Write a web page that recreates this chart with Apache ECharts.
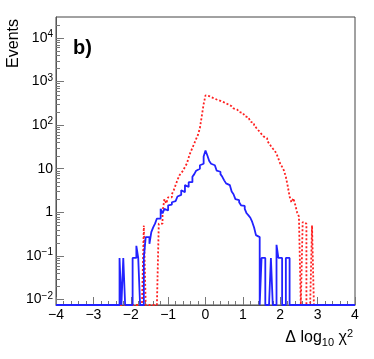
<!DOCTYPE html>
<html lang="en">
<head>
    <meta charset="UTF-8">
    <title>Delta log10 chi2</title>
    <script src="https://cdn.jsdelivr.net/npm/echarts@6/dist/echarts.min.js"></script>
    <style>
        * { margin: 0; padding: 0; }
        body { background: #fff; }
        #chart { width: 374px; height: 359px; }
    </style>
</head>
<body>
    <div id="chart"></div>
    <script>
        // histogram binning
        const xMin = -4;
        const xMax = 4;
        const binWidth = 0.05;
        const yMin = 0.0075;
        const yMax = 30000;

        // blue solid histogram, first bin starts at blueFrom
        const blueFrom = -2.3;
        const blueCounts = [0.09, 0, 0.09, 0, 0, 0, 0, 0.09, 0.09, 0.17, 0.09, 0, 0, 0.09, 0.27, 0.27,
            0.19, 0.35, 0.45, 0.55, 0.72, 0.72, 1.2, 0.95, 1.2, 1.1, 1.45, 1.5, 1.7, 1.8, 1.9, 2.3,
            2.5, 3.2, 2.9, 4.2, 3.8, 4.9, 4.9, 6.5, 7.5, 9, 10, 12, 13, 19, 26, 20, 15, 13, 12, 11,
            9, 8.5, 7.5, 6.5, 5.4, 4.6, 4.2, 3.8, 3, 2.6, 2, 1.9, 1.7, 1.45, 1.4, 1.2, 0.95, 0.85,
            0.75, 0.6, 0.45, 0.3, 0.27, 0, 0.09, 0.09, 0, 0, 0, 0.09, 0, 0, 0.18, 0.09, 0.09, 0, 0,
            0.09, 0.09];

        // red dotted histogram
        const redFrom = -1.65;
        const redCounts = [0.5, 0, 0, 0, 0, 0, 0, 0, 0.55, 0.55, 1.0, 2.0, 1.6, 2.2, 2.2, 2.6, 3.2,
            4.2, 5.5, 7, 8, 9, 11, 13, 18, 24, 30, 38, 48, 60, 85, 160, 300, 480, 460, 440, 420,
            400, 385, 370, 360, 345, 330, 310, 300, 285, 270, 255, 240, 225, 210, 200, 190, 175,
            160, 150, 135, 120, 110, 98, 88, 78, 70, 62, 55, 50, 44, 38, 33, 29, 26, 22, 17, 13,
            11, 9, 6.5, 4, 2.3, 1.7, 2.1, 1.5, 1.0, 0.8, 0, 0.6, 0.55, 0, 0, 0, 0.5];

        const font = "'Liberation Sans', Arial, Helvetica, sans-serif";
        const nBins = Math.round((xMax - xMin) / binWidth);

        function stepPoints(from, counts) {
            const full = new Array(nBins).fill(0);
            const off = Math.round((from - xMin) / binWidth);
            counts.forEach((c, i) => { full[off + i] = c; });
            const pts = [];
            for (let k = 0; k < nBins; k++) {
                pts.push([xMin + k * binWidth, full[k] > 0 ? full[k] : yMin]);
            }
            pts.push([xMax, full[nBins - 1] > 0 ? full[nBins - 1] : yMin]);
            return pts;
        }

        // minor ticks of the log axis (2..9 x 10^n)
        const minorY = [];
        for (let e = -2; e <= 4; e++) {
            for (let m = 2; m <= 9; m++) {
                const v = m * Math.pow(10, e);
                if (v > yMin && v < yMax) minorY.push([xMin, v]);
            }
        }

        function fmtX(v) {
            return v < 0 ? '\u2212' + Math.abs(v) : String(v);
        }

        function fmtY(v) {
            const e = Math.log10(v);
            if (Math.abs(e - Math.round(e)) > 1e-6) return '';
            const n = Math.round(e);
            if (n === 0) return '{m|1}';
            if (n === 1) return '{m|10}';
            return '{m|10}{s|' + (n < 0 ? '\u2212' + (-n) : n) + '}';
        }

        const chart = echarts.init(document.getElementById('chart'));
        chart.setOption({
            animation: false,
            grid: {
                left: 56, right: 19, top: 17, bottom: 54,
                show: true, borderColor: '#444', borderWidth: 1
            },
            xAxis: {
                type: 'value',
                min: xMin, max: xMax, interval: 1,
                axisLine: { onZero: false, lineStyle: { color: '#555' } },
                axisTick: { inside: true, length: 8, lineStyle: { color: '#777' } },
                minorTick: { show: true, splitNumber: 5, length: 4, lineStyle: { color: '#777' } },
                splitLine: { show: false },
                axisLabel: { formatter: fmtX, color: '#000', fontSize: 14, fontFamily: font, margin: 3 }
            },
            yAxis: {
                type: 'log', logBase: 10,
                min: yMin, max: yMax,
                axisLine: { show: true, onZero: false, lineStyle: { color: '#555' } },
                axisTick: { inside: true, length: 8, lineStyle: { color: '#777' } },
                splitLine: { show: false },
                axisLabel: {
                    formatter: fmtY, showMinLabel: false, showMaxLabel: false, margin: 3,
                    color: '#000', fontFamily: font,
                    rich: {
                        m: { fontSize: 14, fontFamily: font, color: '#000' },
                        s: { fontSize: 10, fontFamily: font, color: '#000', verticalAlign: 'top', padding: [0, 0, 7, 0] }
                    }
                }
            },
            graphic: [
                {
                    type: 'text', x: 14, y: 19, rotation: Math.PI / 2,
                    style: { text: 'Events', font: '16px ' + font, fill: '#000', align: 'right', verticalAlign: 'middle' }
                },
                {
                    type: 'text', x: 73, y: 48,
                    style: { text: 'b)', font: 'bold 20px ' + font, fill: '#000', align: 'left', verticalAlign: 'middle' }
                },
                {
                    type: 'text', x: 353, y: 338,
                    style: {
                        text: '\u0394 log{sub|10} \u03c7{sup|2}', align: 'right', verticalAlign: 'middle',
                        font: '16px ' + font, fill: '#000',
                        rich: {
                            sub: { fontSize: 11, fontFamily: font, verticalAlign: 'bottom', padding: [9, 0, 0, 0] },
                            sup: { fontSize: 11, fontFamily: font, verticalAlign: 'top', padding: [0, 0, 8, 0] }
                        }
                    }
                }
            ],
            series: [
                {
                    type: 'custom',
                    data: minorY,
                    silent: true,
                    renderItem: function (params, api) {
                        const p = api.coord([api.value(0), api.value(1)]);
                        const y = Math.round(p[1]) + 0.5;
                        return {
                            type: 'line',
                            shape: { x1: p[0], y1: y, x2: p[0] + 4, y2: y },
                            style: { stroke: '#777', lineWidth: 1 }
                        };
                    }
                },
                {
                    type: 'line',
                    data: stepPoints(redFrom, redCounts),
                    step: 'end',
                    symbol: 'none',
                    clip: false,
                    lineStyle: { color: '#ff2020', width: 1.8, type: [2, 2] }
                },
                {
                    type: 'line',
                    data: stepPoints(blueFrom, blueCounts),
                    step: 'end',
                    symbol: 'none',
                    clip: false,
                    lineStyle: { color: '#2222ff', width: 1.8 }
                }
            ]
        });
    </script>
</body>
</html>
